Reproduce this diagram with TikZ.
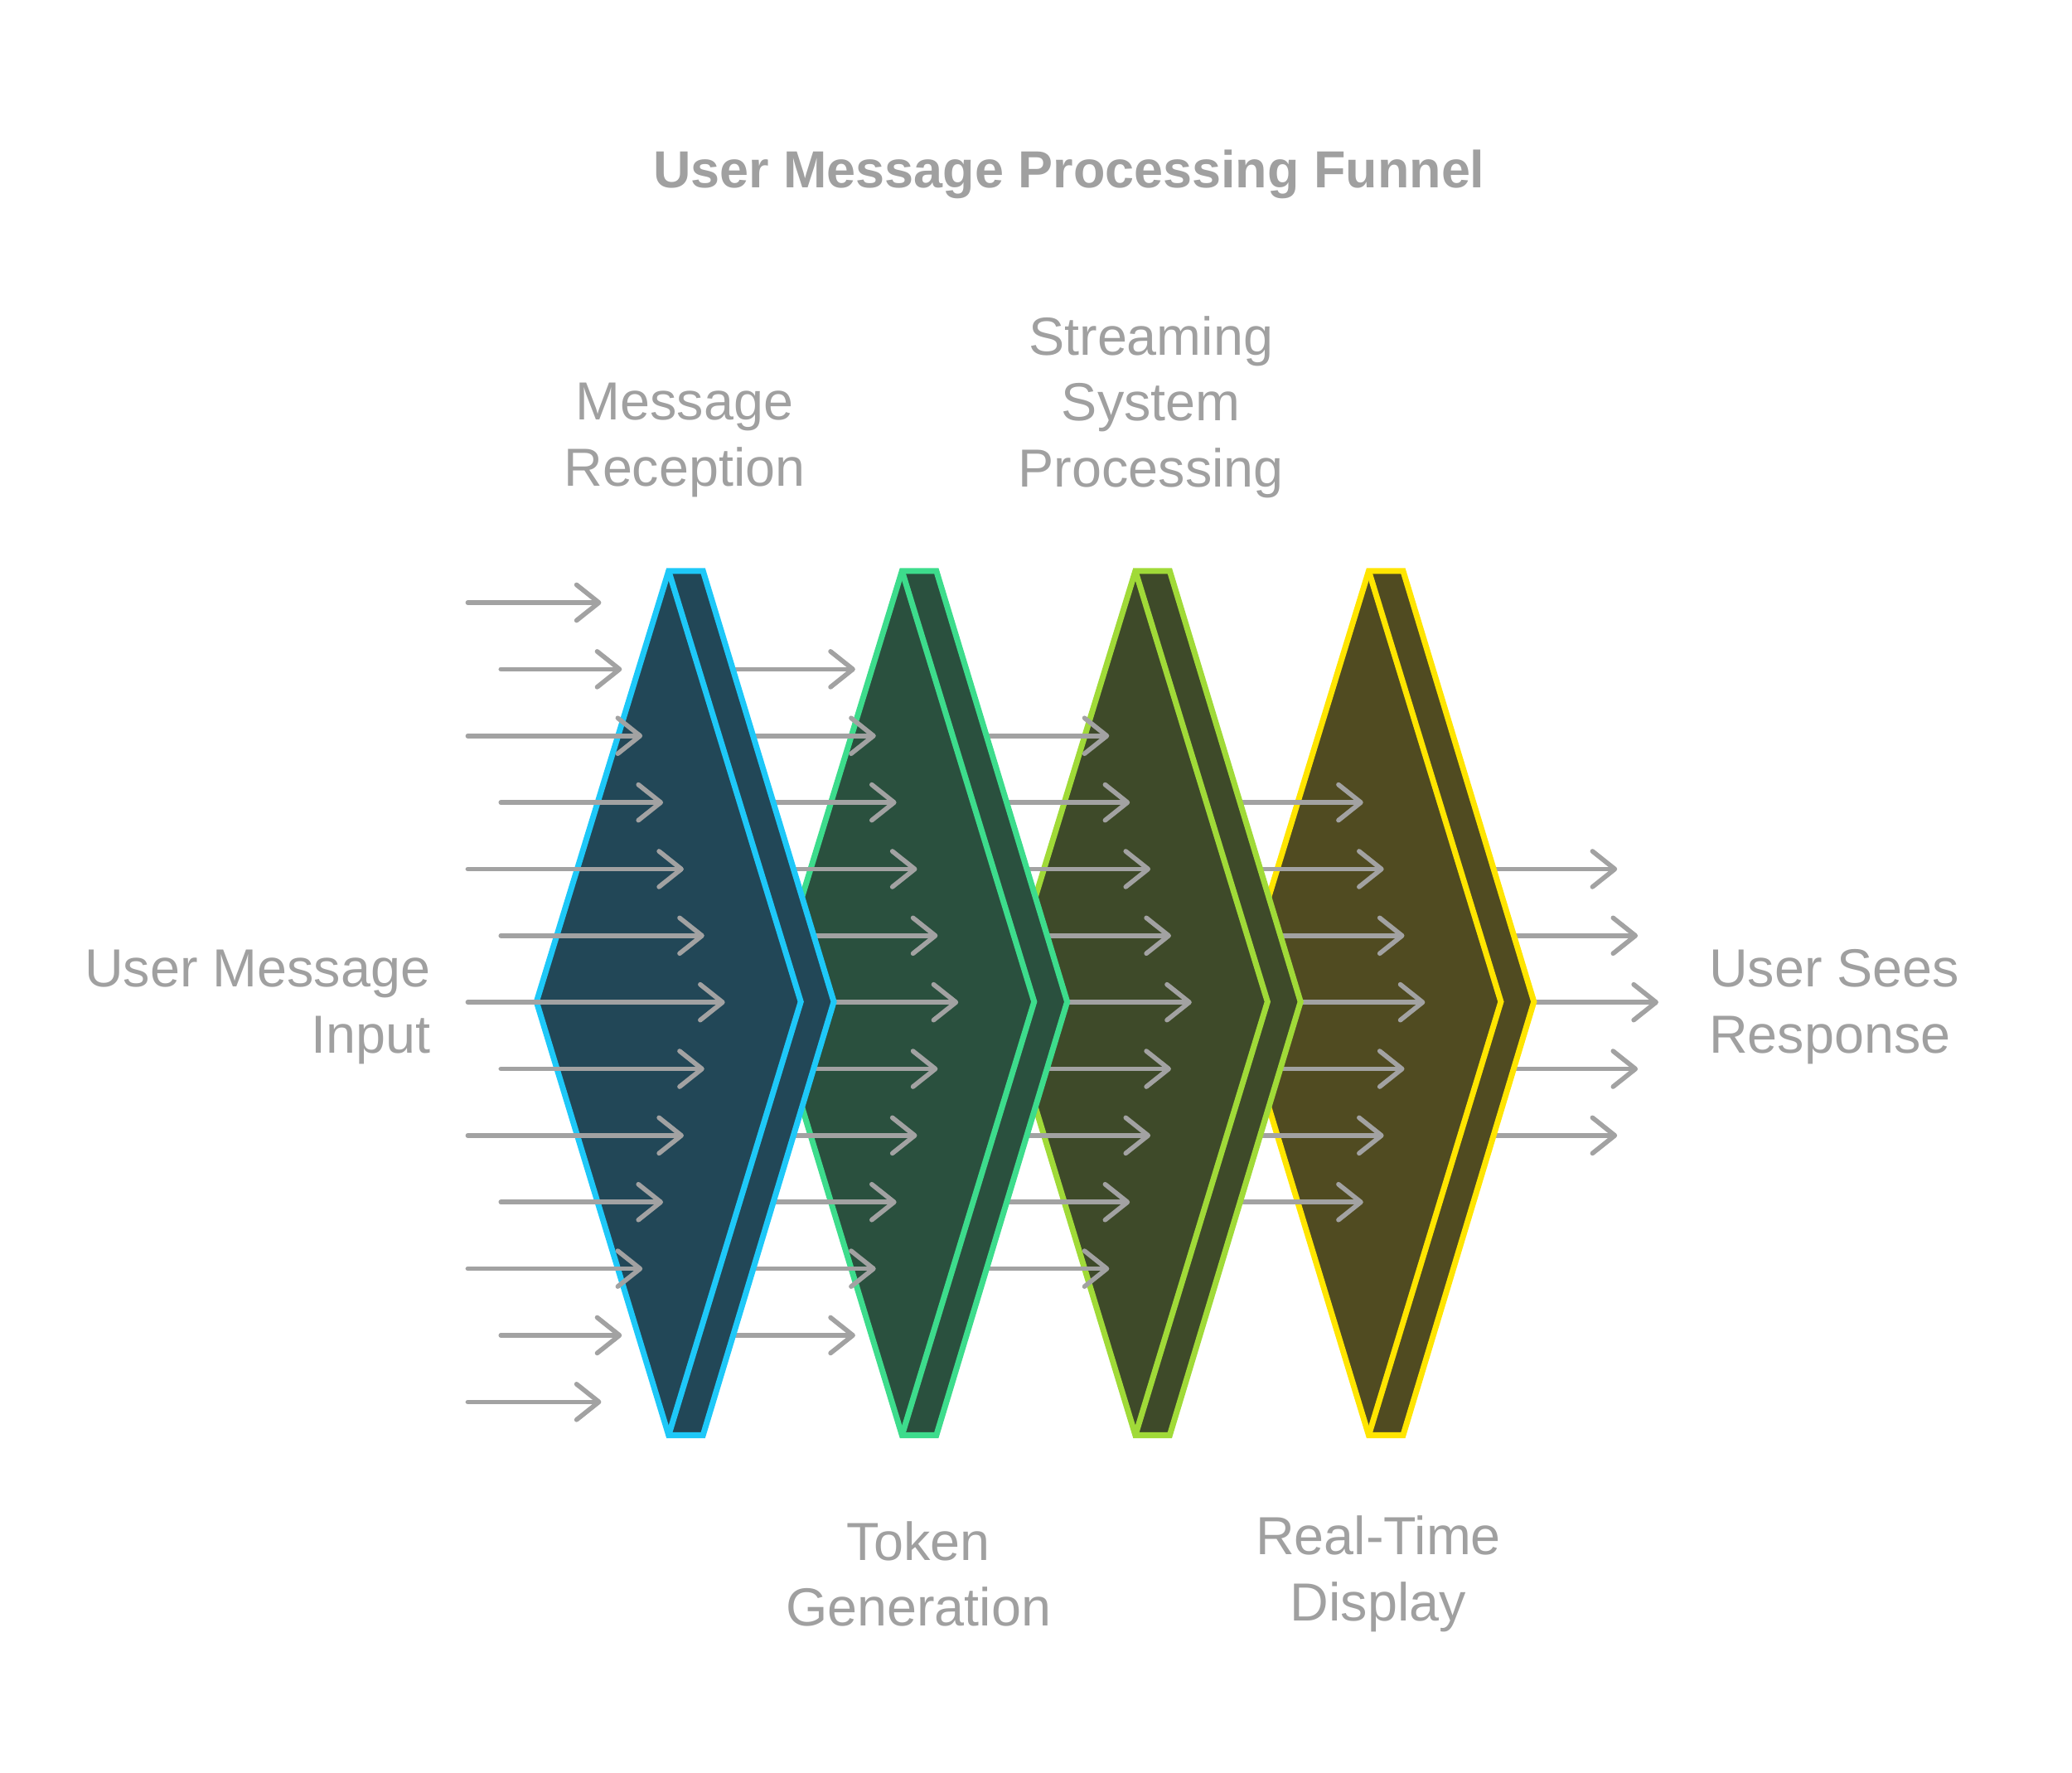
\documentclass[tikz,border=0pt]{standalone}
\usepackage{fontspec}
\setmainfont{Liberation Sans}
\usepackage{xcolor}
\usetikzlibrary{arrows.meta}
\definecolor{label}{HTML}{A0A0A0}
\definecolor{flowgray}{HTML}{A2A2A2}
\definecolor{edge0}{HTML}{1EC8F8}
\definecolor{fill0}{HTML}{224757}
\definecolor{edge1}{HTML}{3DDC8C}
\definecolor{fill1}{HTML}{2A503E}
\definecolor{edge2}{HTML}{A0DA38}
\definecolor{fill2}{HTML}{3E4A29}
\definecolor{edge3}{HTML}{FFE500}
\definecolor{fill3}{HTML}{504B21}
\tikzset{
  flow/.style={draw=flowgray, line width=1.6pt, line cap=round,
               -{Straight Barb[length=2.7mm,width=4.3mm,round]}},
  stage/.style={line width=2pt, line join=miter},
  lbl/.style={text=label, font=\fontsize{18.4}{22.7}\selectfont, align=center, inner sep=0pt},
  heading/.style={text=label, font=\bfseries\fontsize{17.9}{22.7}\selectfont, inner sep=0pt}
}

\begin{document}
\begin{tikzpicture}[x=0.015944cm,y=-0.015944cm]
  \useasboundingbox (0,0) rectangle (1568,1341);
  \foreach \m in {4,3,2,1,0} {
    \pgfmathtruncatemacro{\jlo}{\m}
    \pgfmathtruncatemacro{\jhi}{12-\m}
    \foreach \j in {\jlo,...,\jhi} {
      \pgfmathsetmacro{\yy}{456+50.4*\j}
      \pgfmathsetmacro{\tx}{455+176.6*\m+15.6*(6-abs(\j-6))}
      \pgfmathsetmacro{\sx}{\m==0 ? (mod(\j,2)==0 ? 354 : 379) : 519+176.6*(\m-1)}
      \coordinate (s\m-\j) at (\sx,\yy);
      \coordinate (t\m-\j) at (\tx,\yy);
      \draw[flow] (s\m-\j) -- (t\m-\j);
    }
    \ifnum\m>0
      \pgfmathtruncatemacro{\k}{\m-1}
      \pgfmathsetmacro{\cx}{176.6*\k}
      \begin{scope}[shift={(\cx,0)}]
        \draw[stage,draw=edge\k,fill=fill\k] (506,432) -- (532,432) -- (631,758)
          -- (532,1086) -- (506,1086) -- (406,758) -- cycle;
        \draw[stage,draw=edge\k] (506,432) -- (606,758) -- (506,1086);
      \end{scope}
    \fi
  }
  \node[heading] (title) at (809,132) {User Message Processing Funnel};
  \node[lbl,align=right,anchor=east] (lblin) at (326,762) {User Message\\Input};
  \node[lbl] (lblrecv) at (518,333) {Message\\Reception};
  \node[lbl] (lbltoken) at (695,1191) {Token\\Generation};
  \node[lbl] (lblstream) at (871,308) {Streaming\\System\\Processing};
  \node[lbl] (lbldisplay) at (1043,1191) {Real-Time\\Display};
  \node[lbl,align=left,anchor=west] (lblout) at (1293,762) {User Sees\\Response};
\end{tikzpicture}
\end{document}
